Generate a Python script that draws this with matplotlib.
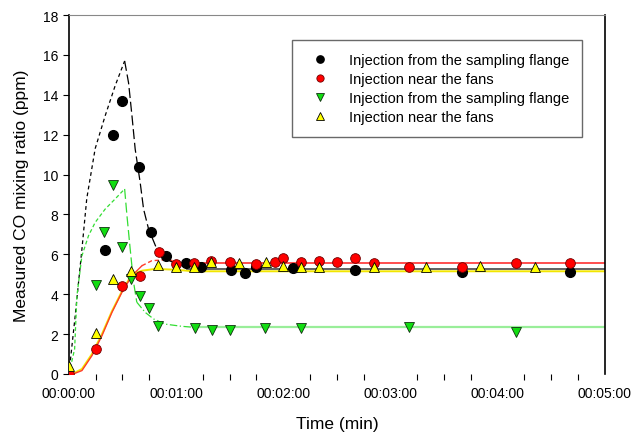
import matplotlib
matplotlib.use('Agg')
import matplotlib.pyplot as plt
from matplotlib.ticker import FixedLocator

plt.rcParams['font.family'] = ['Liberation Sans', 'DejaVu Sans']

# measured points (time in s, CO in ppm)
t_black = [20.1, 24.8, 30.0, 39.0, 45.7, 54.3, 65.8, 74.2, 91.0, 98.5, 105.0, 125.5, 160.4, 220.3, 280.7]
y_black = [6.2, 12.0, 13.7, 10.4, 7.1, 5.93, 5.57, 5.35, 5.2, 5.05, 5.35, 5.3, 5.2, 5.1, 5.1]

t_red = [0, 15.1, 29.8, 39.7, 50.3, 60.2, 70.0, 79.8, 90.1, 105.0, 115.3, 119.9, 130.2, 140.0, 150.3, 160.4, 170.7, 190.4, 220.3, 250.5, 280.7]
y_red = [0.0, 1.25, 4.43, 4.93, 6.1, 5.5, 5.57, 5.68, 5.63, 5.52, 5.63, 5.8, 5.63, 5.68, 5.63, 5.8, 5.57, 5.35, 5.35, 5.57, 5.57]

t_green = [15.1, 19.8, 24.8, 29.8, 34.7, 39.7, 44.8, 50.0, 70.5, 80.2, 90.1, 110.0, 130.2, 190.4, 250.5]
y_green = [4.48, 7.14, 9.48, 6.39, 4.76, 3.9, 3.29, 2.42, 2.29, 2.22, 2.22, 2.29, 2.29, 2.34, 2.09]

t_yellow = [0, 15.1, 24.8, 34.7, 50.0, 60.2, 70.1, 79.8, 95.3, 110.2, 119.9, 130.2, 140.0, 170.7, 200.1, 230.4, 260.8]
y_yellow = [0.4, 2.06, 4.76, 5.18, 5.48, 5.35, 5.38, 5.6, 5.57, 5.6, 5.43, 5.35, 5.35, 5.35, 5.35, 5.43, 5.35]

# model curves
bk_rise_t = [0, 3.5, 5.4, 7.3, 10.0, 14.7, 20.3, 25.9, 31.2]
bk_rise_y = [0, 2.9, 4.6, 6.27, 8.8, 11.3, 12.95, 14.46, 15.7]
bk_fall_t = [31.2, 33.4, 35.3, 37.1, 39.9, 41.8, 44.6, 49.2, 53.9, 60.4, 66.0]
bk_fall_y = [15.7, 14.6, 12.95, 11.28, 9.6, 8.27, 7.27, 6.27, 5.77, 5.52, 5.35]
bk_flat_t = [66.0, 300]
bk_flat_y = [5.27, 5.27]

gr_rise_t = [0, 3.2, 4.5, 7.3, 11.0, 14.7, 20.3, 25.9, 31.2]
gr_rise_y = [0, 1.25, 3.93, 5.93, 6.94, 7.6, 8.27, 8.78, 9.28]
gr_fall_t = [31.2, 32.5, 34.3, 36.2, 38.0]
gr_fall_y = [9.28, 7.94, 6.27, 4.6, 3.6]
gr_decay_t = [38.0, 42.7, 47.4, 53.9, 63.2, 70.0]
gr_decay_y = [3.6, 3.09, 2.76, 2.5, 2.39, 2.34]
gr_flat_t = [70.0, 300]
gr_flat_y = [2.34, 2.34]

rd_rise_t = [0, 3.0, 7.3, 12.9, 18.5, 24.1, 29.7, 35.3, 40.9]
rd_rise_y = [0, 0.02, 0.17, 0.92, 1.92, 3.09, 4.1, 4.93, 5.43]
rd_top_t = [40.9, 46.4, 53.9, 63.2, 70.0]
rd_top_y = [5.43, 5.68, 5.73, 5.63, 5.55]
rd_flat_t = [70.0, 300]
rd_flat_y = [5.55, 5.55]

ye_t = [0, 3.0, 7.3, 12.9, 18.5, 24.1, 29.7, 35.3, 40.9, 48.3, 59.5, 70.0, 300]
ye_y = [0, 0.05, 0.25, 1.0, 2.0, 3.15, 4.15, 5.0, 5.18, 5.27, 5.23, 5.15, 5.15]

x_ticks = [0, 60, 120, 180, 240, 300]
x_labels = ['00:00:00', '00:01:00', '00:02:00', '00:03:00', '00:04:00', '00:05:00']
y_ticks = [0, 2, 4, 6, 8, 10, 12, 14, 16, 18]

fig = plt.figure(figsize=(6.38, 4.35), dpi=100)
ax = fig.add_axes([0.108, 0.138, 0.84, 0.825])

# lines
ax.plot(ye_t, ye_y, color='#f2e600', lw=1.4, zorder=2)
ax.plot(rd_rise_t, rd_rise_y, color='#ff3a2a', lw=1.0, zorder=2)
ax.plot(rd_top_t, rd_top_y, color='#ff3a2a', lw=1.0, ls=(0, (3, 2)), zorder=2)
ax.plot(rd_flat_t, rd_flat_y, color='#ff4040', lw=1.3, zorder=2)
ax.plot(bk_rise_t, bk_rise_y, color='black', lw=0.9, ls=(0, (3, 2.5)), zorder=2)
ax.plot(bk_fall_t, bk_fall_y, color='black', lw=0.9, ls=(0, (8, 3)), zorder=2)
ax.plot(bk_flat_t, bk_flat_y, color='#555555', lw=1.3, zorder=2)
ax.plot(gr_rise_t, gr_rise_y, color='#33dd33', lw=0.9, ls=(0, (3, 2)), zorder=2)
ax.plot(gr_fall_t, gr_fall_y, color='#33dd33', lw=0.9, ls=(0, (8, 3)), zorder=2)
ax.plot(gr_decay_t, gr_decay_y, color='#33dd33', lw=0.9, ls=(0, (6, 2, 1, 2)), zorder=2)
ax.plot(gr_flat_t, gr_flat_y, color='#99ee99', lw=1.6, zorder=2)

# points
ax.plot(t_black, y_black, 'o', color='black', ms=7, mec='black', ls='none',
        label='Injection from the sampling flange', zorder=3)
ax.plot(t_red, y_red, 'o', color='#ff0000', ms=7, mec='#700000', mew=0.6, ls='none',
        label='Injection near the fans', zorder=3)
ax.plot(t_green, y_green, 'v', color='#11dd11', ms=7, mec='#103010', mew=0.6, ls='none',
        label='Injection from the sampling flange', zorder=3)
ax.plot(t_yellow, y_yellow, '^', color='#ffff00', ms=7, mec='black', mew=0.6, ls='none',
        label='Injection near the fans', zorder=3)

ax.set_xlim(0, 300)
ax.set_ylim(0, 18)
ax.set_xticks(x_ticks)
ax.set_xticklabels(x_labels)
ax.xaxis.set_minor_locator(FixedLocator([t for t in range(15, 300, 15) if t % 60 != 0]))
ax.tick_params(axis='x', which='major', length=0, pad=9, labelsize=10)
ax.tick_params(axis='x', which='minor', length=4, width=0.8, direction='out')
ax.set_yticks(y_ticks)
ax.tick_params(axis='y', length=4, width=0.8, direction='out', labelsize=10)

ax.spines['bottom'].set_visible(False)
ax.spines['top'].set_color('#888888')
ax.spines['left'].set_linewidth(1.2)
ax.spines['right'].set_linewidth(1.2)

ax.set_xlabel('Time (min)', fontsize=12.5, labelpad=11)
ax.set_ylabel('Measured CO mixing ratio (ppm)', fontsize=12.5, labelpad=10)

leg = ax.legend(loc='upper left', bbox_to_anchor=(0.416, 0.930), fontsize=10.5,
                frameon=True, fancybox=False, edgecolor='#444444', markerscale=0.75,
                handletextpad=1.0, borderpad=0.9, labelspacing=0.33, borderaxespad=0)
leg.get_frame().set_linewidth(1.0)

fig.savefig('out.png', dpi=100)
